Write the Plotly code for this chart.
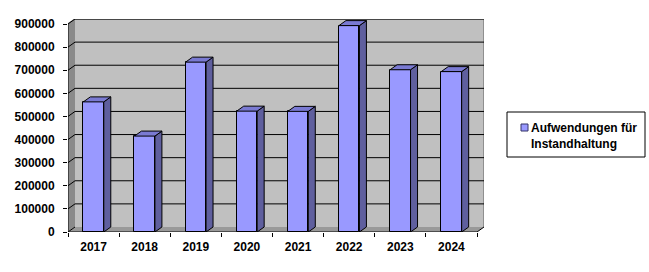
import plotly.graph_objects as go

# ---- data ----
years = ["2017", "2018", "2019", "2020", "2021", "2022", "2023", "2024"]
values = [563000, 415000, 735000, 523000, 522000, 893000, 702000, 694000]
y_ticks = [0, 100000, 200000, 300000, 400000, 500000, 600000, 700000, 800000, 900000]
series_name = "Aufwendungen für<br>Instandhaltung"

# ---- geometry ----
W, H = 649, 272
L, R, T, B = 68, 165, 19, 40
DX_PX, DY_PX = 7, 5
n = len(years)
ymax = max(y_ticks)
px_per_cat = (W - L - R - DX_PX) / n
px_per_val = (H - T - B - DY_PX) / ymax
dxu = DX_PX / px_per_cat
dyu = DY_PX / px_per_val
hw = 0.2
x_left, x_right = -0.5, n - 0.5

FRONT = "#9999FF"
SIDE = "#5F5F9E"
TOP = "#7A7AD2"
WALL = "#C0C0C0"
LWALL = "#8A8A8A"
FLOOR = "#999999"
FONT = "Liberation Sans"


def pxx(p):
    return (p - L) / (W - L - R)


def pxy(p):
    return (H - B - p) / (H - T - B)


shapes = []
# back wall
shapes.append(dict(type="rect", xref="x", yref="y", layer="below",
                   x0=x_left + dxu, x1=x_right + dxu, y0=dyu, y1=ymax + dyu,
                   fillcolor=WALL, line=dict(width=0)))
# left wall
shapes.append(dict(type="path", xref="x", yref="y", layer="below",
                   path=f"M {x_left},0 L {x_left+dxu},{dyu} L {x_left+dxu},{ymax+dyu} L {x_left},{ymax} Z",
                   fillcolor=LWALL, line=dict(width=0)))
# floor
shapes.append(dict(type="path", xref="x", yref="y", layer="below",
                   path=f"M {x_left},0 L {x_right},0 L {x_right+dxu},{dyu} L {x_left+dxu},{dyu} Z",
                   fillcolor=FLOOR, line=dict(width=0)))
# wall borders (top / right)
shapes.append(dict(type="path", xref="x", yref="y", layer="below",
                   path=f"M {x_left},{ymax} L {x_left+dxu},{ymax+dyu} L {x_right+dxu},{ymax+dyu} L {x_right+dxu},{dyu}",
                   line=dict(color="#7F7F7F", width=1.5)))
# gridlines on back wall
for v in y_ticks:
    if v == 0:
        p = f"M {x_left},0 L {x_left+dxu},{dyu}"
    else:
        p = f"M {x_left},{v} L {x_left+dxu},{v+dyu} L {x_right+dxu},{v+dyu}"
    shapes.append(dict(type="path", xref="x", yref="y", layer="below",
                       path=p, line=dict(color="black", width=1)))
# front axes lines
shapes.append(dict(type="path", xref="x", yref="y", layer="above",
                   path=f"M {x_left},{ymax} L {x_left},0 L {x_right},0 L {x_right+dxu},{dyu}",
                   line=dict(color="black", width=1)))

fig = go.Figure()
fig.add_trace(go.Bar(x=list(range(n)), y=values, width=2 * hw,
                     marker=dict(color=FRONT, line=dict(color="black", width=1)),
                     showlegend=False, hoverinfo="skip"))
for i, v in enumerate(values):
    # side face
    fig.add_trace(go.Scatter(
        x=[i + hw, i + hw + dxu, i + hw + dxu, i + hw, i + hw],
        y=[0, dyu, v + dyu, v, 0],
        fill="toself", fillcolor=SIDE, mode="lines",
        line=dict(color="black", width=1), showlegend=False, hoverinfo="skip"))
    # top face
    fig.add_trace(go.Scatter(
        x=[i - hw, i - hw + dxu, i + hw + dxu, i + hw, i - hw],
        y=[v, v + dyu, v + dyu, v, v],
        fill="toself", fillcolor=TOP, mode="lines",
        line=dict(color="black", width=1), showlegend=False, hoverinfo="skip"))
# dummy trace for boundary tick axis
fig.add_trace(go.Scatter(x=[None], y=[None], xaxis="x2", showlegend=False))

# manual legend
lg_l, lg_r, lg_t, lg_b = 507, 645, 112, 157
shapes.append(dict(type="rect", xref="paper", yref="paper",
                   x0=pxx(lg_l), x1=pxx(lg_r), y0=pxy(lg_b), y1=pxy(lg_t),
                   line=dict(color="black", width=1), fillcolor="white"))
shapes.append(dict(type="rect", xref="paper", yref="paper",
                   x0=pxx(521), x1=pxx(528), y0=pxy(131), y1=pxy(124),
                   line=dict(color="#333366", width=1), fillcolor=FRONT))

fig.update_layout(
    width=W, height=H,
    margin=dict(l=L, r=R, t=T, b=B, pad=0),
    paper_bgcolor="white", plot_bgcolor="white",
    showlegend=False,
    bargap=0,
    shapes=shapes,
    font=dict(family=FONT, size=12, color="black"),
    xaxis=dict(range=[x_left, x_right + dxu], tickvals=list(range(n)), ticktext=years,
               ticks="", showgrid=False, zeroline=False, showline=False,
               tickfont=dict(family=FONT, size=12, weight="bold"),
               ticklabelstandoff=6, fixedrange=True),
    xaxis2=dict(range=[x_left, x_right + dxu], overlaying="x", anchor="y", side="bottom",
                tickvals=[i - 0.5 for i in range(n + 1)], ticks="outside", ticklen=4,
                tickcolor="black", showticklabels=False, showgrid=False, zeroline=False,
                showline=False),
    yaxis=dict(range=[0, ymax + dyu], tickvals=y_ticks, ticktext=[str(v) for v in y_ticks],
               ticks="outside", ticklen=4, tickcolor="black", showgrid=False,
               zeroline=False, showline=False,
               tickfont=dict(family=FONT, size=12, weight="bold"),
               ticklabelstandoff=6),
    annotations=[dict(xref="paper", yref="paper", x=pxx(529), y=pxy(119),
                      xanchor="left", yanchor="top", align="left", showarrow=False,
                      text=series_name,
                      font=dict(family=FONT, size=12, weight="bold", color="black"))],
)

fig.write_html("out.html")
